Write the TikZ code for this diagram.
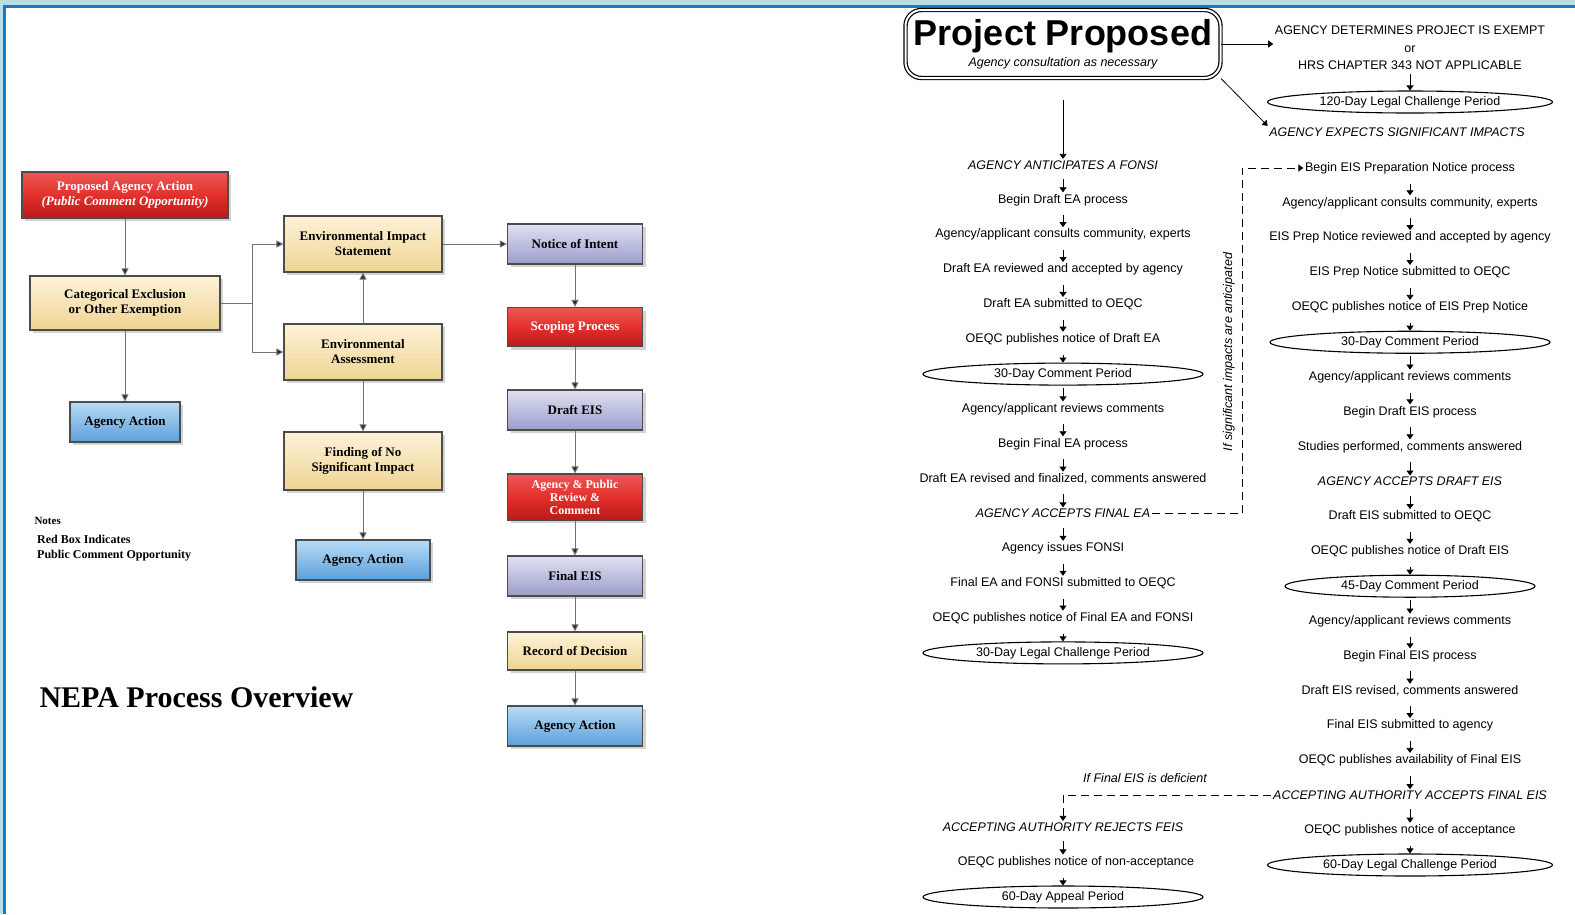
\documentclass[tikz,border=0pt]{standalone}
\usepackage{fontspec}
\setmainfont{Liberation Serif}
\newfontfamily\chartsans{Liberation Sans}
\usetikzlibrary{arrows.meta,shapes.geometric,shadows}

\definecolor{framelight}{HTML}{B8DDE3}
\definecolor{frameblue}{HTML}{1A78C8}
\definecolor{boxred}{HTML}{E4302C}
\definecolor{boxreddark}{HTML}{B81A18}
\definecolor{boxtan}{HTML}{FDF3D8}
\definecolor{boxtandark}{HTML}{EFD393}
\definecolor{boxblue}{HTML}{B8DCF6}
\definecolor{boxbluedark}{HTML}{5C9FDA}
\definecolor{boxlilac}{HTML}{E0E1F2}
\definecolor{boxlilacdark}{HTML}{9B9DCB}

\newcommand{\boxfont}{\fontsize{13}{15}\selectfont\bfseries}
\newcommand{\stagefont}{\chartsans\fontsize{12.5}{15}\selectfont}

\tikzset{
  nepabox/.style={rectangle, draw=black!70, line width=1.2pt, inner sep=2pt,
    align=center, font=\boxfont,
    drop shadow={shadow xshift=3pt, shadow yshift=-3pt, opacity=0.35}},
  redbox/.style={nepabox, top color=boxred!80!white, bottom color=boxreddark,
    middle color=boxred, text=white},
  tanbox/.style={nepabox, top color=boxtan, bottom color=boxtandark},
  bluebox/.style={nepabox, top color=boxblue, bottom color=boxbluedark},
  lilacbox/.style={nepabox, top color=boxlilac, bottom color=boxlilacdark},
  flow/.style={draw=black!55, line width=1pt,
    -{Triangle[length=7pt,width=7pt,fill=black!85]}},
  stage/.style={font=\stagefont, inner sep=1.5pt},
  verdict/.style={font=\stagefont\itshape, inner sep=1.5pt},
  period/.style={ellipse, draw, line width=1.1pt, font=\stagefont,
    inner sep=0pt, minimum height=22pt},
  pass/.style={draw=black, line width=0.8pt, shorten <=8pt,
    -{Triangle[length=5pt,width=7pt]}},
  passdash/.style={draw=black, line width=0.8pt, dashed,
    dash pattern=on 8pt off 5pt, -{Triangle[length=5pt,width=7pt]}},
  projbox/.style={rectangle, rounded corners=16pt, draw, double,
    double distance=2pt, line width=1.2pt, align=center,
    minimum width=315pt, minimum height=68pt, inner sep=1pt}
}

\begin{document}
\begin{tikzpicture}[x=1pt, y=-1pt, node distance=34.85pt]
  \useasboundingbox (0,0) rectangle (1575,914);
  \fill[framelight] (0,0) rectangle (1575,5);
  \fill[frameblue] (0,5) rectangle (1575,7.5);
  \fill[framelight] (0,0) rectangle (3,914);
  \fill[frameblue] (3,5) rectangle (6,914);

  % NEPA overview
  \node[redbox, minimum width=206pt, minimum height=46pt] (propose) at (125,195)
  {Proposed Agency Action\\{\itshape (Public Comment Opportunity)}};
  \node[tanbox, minimum width=190pt, minimum height=54pt] (catex) at (125,303)
  {Categorical Exclusion\\or Other Exemption};
  \node[bluebox, minimum width=110pt, minimum height=40pt] (act1) at (125,422)
  {Agency Action};
  \draw[flow] (propose) -- (catex);
  \draw[flow] (catex) -- (act1);

  \node[tanbox, minimum width=158pt, minimum height=56pt] (eis) at (363,244)
  {Environmental Impact\\Statement};
  \node[tanbox, minimum width=158pt, minimum height=56pt] (ea) at (363,352)
  {Environmental\\Assessment};
  \node[tanbox, minimum width=158pt, minimum height=58pt] (nosig) at (363,461)
  {Finding of No\\Significant Impact};
  \node[bluebox, minimum width=134pt, minimum height=40pt] (act2) at (363,560)
  {Agency Action};
  \draw[draw=black!55, line width=1pt] (catex.east) -- ++(32,0) coordinate (split);
  \draw[flow] (split) |- (eis.west);
  \draw[flow] (split) |- (ea.west);
  \draw[flow] (ea) -- (eis);
  \draw[flow] (ea) -- (nosig);
  \draw[flow] (nosig) -- (act2);

  \node[lilacbox, minimum width=135pt, minimum height=40pt] (intent) at (575,244)
  {Notice of Intent};
  \node[redbox, minimum width=135pt, minimum height=39pt] (scoping) at (575,327)
  {Scoping Process};
  \node[lilacbox, minimum width=135pt, minimum height=40pt] (draft) at (575,410)
  {Draft EIS};
  \node[redbox, minimum width=135pt, minimum height=46pt,
  font=\fontsize{12}{13}\selectfont\bfseries] (review) at (575,497)
  {Agency \& Public\\Review \&\\Comment};
  \node[lilacbox, minimum width=135pt, minimum height=40pt] (final) at (575,576)
  {Final EIS};
  \node[tanbox, minimum width=135pt, minimum height=38pt] (record) at (575,651)
  {Record of Decision};
  \node[bluebox, minimum width=135pt, minimum height=40pt] (act3) at (575,726)
  {Agency Action};
  \draw[flow] (eis) -- (intent);
  \draw[flow] (intent) -- (scoping);
  \draw[flow] (scoping) -- (draft);
  \draw[flow] (draft) -- (review);
  \draw[flow] (review) -- (final);
  \draw[flow] (final) -- (record);
  \draw[flow] (record) -- (act3);

  \node[anchor=west, font=\fontsize{11}{13}\selectfont\bfseries] (notes) at (31,521)
  {Notes};
  \node[anchor=north west, align=left, inner sep=0pt,
  font=\fontsize{12}{15}\selectfont\bfseries] (notered) at (37,535)
  {Red Box Indicates\\Public Comment Opportunity};
  \node[anchor=west, font=\fontsize{30}{32}\selectfont\bfseries] (title) at (36,697)
  {NEPA Process Overview};

  % HRS 343 review
  \node[projbox] (proj) at (1063,44)
  {{\chartsans\bfseries\fontsize{36}{36}\selectfont Project Proposed}\\[3pt]
  {\stagefont\itshape Agency consultation as necessary}};
  \node[stage, align=center, font=\stagefont\fontsize{12.5}{17.5}\selectfont] (exempt)
  at (1410,48) {AGENCY DETERMINES PROJECT IS EXEMPT\\or\\HRS CHAPTER 343 NOT APPLICABLE};
  \node[period, minimum width=285pt] (legal120) at (1410,102)
  {120-Day Legal Challenge Period};
  \node[verdict] (signif) at (1397,132) {AGENCY EXPECTS SIGNIFICANT IMPACTS};
  \draw[pass, shorten <=0pt] (proj.east) -- (proj.east -| exempt.west);
  \draw[pass, shorten <=2pt] (exempt) -- (legal120);
  \draw[pass, shorten <=0pt] (proj.south east) -- (signif.north west);

  \coordinate (projdrop) at (1063,100);
  \node[verdict] (fonsi) at (1063,165) {AGENCY ANTICIPATES A FONSI};
  \node[stage, below of=fonsi] (eabegin) {Begin Draft EA process};
  \node[stage, below of=eabegin] (eaconsult) {Agency/applicant consults community, experts};
  \node[stage, below of=eaconsult] (eareview) {Draft EA reviewed and accepted by agency};
  \node[stage, below of=eareview] (easubmit) {Draft EA submitted to OEQC};
  \node[stage, below of=easubmit] (eanotice) {OEQC publishes notice of Draft EA};
  \node[period, minimum width=280pt, below of=eanotice] (eacomment) {30-Day Comment Period};
  \node[stage, below of=eacomment] (eareply) {Agency/applicant reviews comments};
  \node[stage, below of=eareply] (eafinal) {Begin Final EA process};
  \node[stage, below of=eafinal] (earevise) {Draft EA revised and finalized, comments answered};
  \node[verdict, below of=earevise] (eaaccept) {AGENCY ACCEPTS FINAL EA};
  \node[stage, below of=eaaccept] (eaissue) {Agency issues FONSI};
  \node[stage, below of=eaissue] (eafile) {Final EA and FONSI submitted to OEQC};
  \node[stage, below of=eafile] (eapublish) {OEQC publishes notice of Final EA and FONSI};
  \node[period, minimum width=280pt, below of=eapublish] (ealegal) {30-Day Legal Challenge Period};
  \draw[pass, shorten <=0pt] (projdrop) -- (fonsi);
  \draw[pass] (fonsi) -- (eabegin);
  \draw[pass] (eabegin) -- (eaconsult);
  \draw[pass] (eaconsult) -- (eareview);
  \draw[pass] (eareview) -- (easubmit);
  \draw[pass] (easubmit) -- (eanotice);
  \draw[pass] (eanotice) -- (eacomment);
  \draw[pass, shorten <=2pt] (eacomment) -- (eareply);
  \draw[pass] (eareply) -- (eafinal);
  \draw[pass] (eafinal) -- (earevise);
  \draw[pass] (earevise) -- (eaaccept);
  \draw[pass] (eaaccept) -- (eaissue);
  \draw[pass] (eaissue) -- (eafile);
  \draw[pass] (eafile) -- (eapublish);
  \draw[pass] (eapublish) -- (ealegal);

  \node[stage] (prepbegin) at (1410,168) {Begin EIS Preparation Notice process};
  \node[stage, below of=prepbegin] (prepconsult) {Agency/applicant consults community, experts};
  \node[stage, below of=prepconsult] (prepreview) {EIS Prep Notice reviewed and accepted by agency};
  \node[stage, below of=prepreview] (prepsubmit) {EIS Prep Notice submitted to OEQC};
  \node[stage, below of=prepsubmit] (prepnotice) {OEQC publishes notice of EIS Prep Notice};
  \node[period, minimum width=280pt, below of=prepnotice] (prepcomment) {30-Day Comment Period};
  \node[stage, below of=prepcomment] (prepreply) {Agency/applicant reviews comments};
  \node[stage, below of=prepreply] (deisbegin) {Begin Draft EIS process};
  \node[stage, below of=deisbegin] (deisstudy) {Studies performed, comments answered};
  \node[verdict, below of=deisstudy] (deisaccept) {AGENCY ACCEPTS DRAFT EIS};
  \node[stage, below of=deisaccept] (deissubmit) {Draft EIS submitted to OEQC};
  \node[stage, below of=deissubmit] (deisnotice) {OEQC publishes notice of Draft EIS};
  \node[period, minimum width=250pt, below of=deisnotice] (deiscomment) {45-Day Comment Period};
  \node[stage, below of=deiscomment] (deisreply) {Agency/applicant reviews comments};
  \node[stage, below of=deisreply] (feisbegin) {Begin Final EIS process};
  \node[stage, below of=feisbegin] (feisrevise) {Draft EIS revised, comments answered};
  \node[stage, below of=feisrevise] (feissubmit) {Final EIS submitted to agency};
  \node[stage, below of=feissubmit] (feisavail) {OEQC publishes availability of Final EIS};
  \node[verdict, below of=feisavail] (feisaccept) {ACCEPTING AUTHORITY ACCEPTS FINAL EIS};
  \node[stage, below of=feisaccept] (feisnotice) {OEQC publishes notice of acceptance};
  \node[period, minimum width=285pt, below of=feisnotice] (feislegal) {60-Day Legal Challenge Period};
  \draw[pass] (prepbegin) -- (prepconsult);
  \draw[pass] (prepconsult) -- (prepreview);
  \draw[pass] (prepreview) -- (prepsubmit);
  \draw[pass] (prepsubmit) -- (prepnotice);
  \draw[pass] (prepnotice) -- (prepcomment);
  \draw[pass, shorten <=2pt] (prepcomment) -- (prepreply);
  \draw[pass] (prepreply) -- (deisbegin);
  \draw[pass] (deisbegin) -- (deisstudy);
  \draw[pass] (deisstudy) -- (deisaccept);
  \draw[pass] (deisaccept) -- (deissubmit);
  \draw[pass] (deissubmit) -- (deisnotice);
  \draw[pass] (deisnotice) -- (deiscomment);
  \draw[pass, shorten <=2pt] (deiscomment) -- (deisreply);
  \draw[pass] (deisreply) -- (feisbegin);
  \draw[pass] (feisbegin) -- (feisrevise);
  \draw[pass] (feisrevise) -- (feissubmit);
  \draw[pass] (feissubmit) -- (feisavail);
  \draw[pass] (feisavail) -- (feisaccept);
  \draw[pass] (feisaccept) -- (feisnotice);
  \draw[pass] (feisnotice) -- (feislegal);

  \coordinate (eisturn) at (1242,520);
  \draw[passdash] (eaaccept.east) -- (eaaccept.east -| eisturn) |- (prepbegin.west);
  \node[rotate=90, font=\chartsans\itshape\fontsize{12.5}{14}\selectfont] (eisnote)
  at (1229,352) {If significant impacts are anticipated};

  \node[verdict] (reject) at (1063,827) {ACCEPTING AUTHORITY REJECTS FEIS};
  \node[stage] (rejnotice) at (1076,862) {OEQC publishes notice of non-acceptance};
  \node[period, minimum width=280pt] (appeal) at (1063,897) {60-Day Appeal Period};
  \node[verdict] (deficient) at (1145,778) {If Final EIS is deficient};
  \draw[passdash] (feisaccept.west) -| (reject.north);
  \draw[pass] (reject.south) -- (reject.south |- rejnotice.north);
  \draw[pass] (rejnotice.south -| appeal.north) -- (appeal.north);
\end{tikzpicture}
\end{document}
